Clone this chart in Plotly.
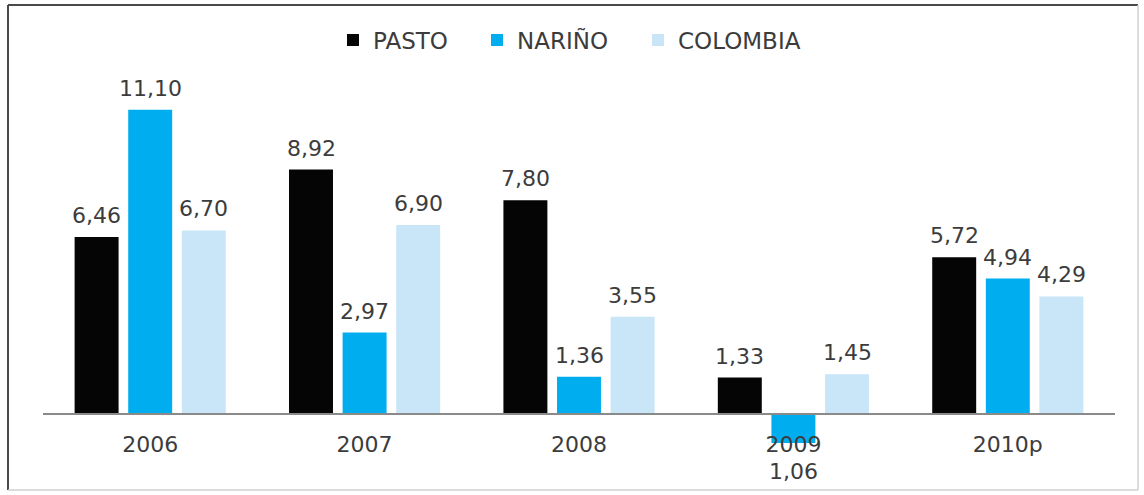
import plotly.graph_objects as go

# Crecimiento anual (%) por territorio
categories = ["2006", "2007", "2008", "2009", "2010p"]
pasto = [6.46, 8.92, 7.80, 1.33, 5.72]
narino = [11.10, 2.97, 1.36, -1.06, 4.94]
colombia = [6.70, 6.90, 3.55, 1.45, 4.29]

series_names = ["PASTO", "NARIÑO", "COLOMBIA"]
series_values = [pasto, narino, colombia]
series_colors = ["#050505", "#00AEEF", "#C9E6F8"]

FONT = "DejaVu Sans"
TEXT_COLOR = "#3c3c3c"

# bar layout inside each category slot (axis units)
slot = 0.25
bar_w = 0.205

W, H = 1144, 495
margin = dict(l=43, r=29, t=69, b=12)
y_range = [-2.52, 12.59]

# left edge (px) of each legend entry along the top row
legend_left_px = [333, 477, 638]
legend_ids = ["legend", "legend2", "legend3"]


def fmt(v):
    return f"{abs(v):.2f}".replace(".", ",")


pw = W - margin["l"] - margin["r"]
ph = H - margin["t"] - margin["b"]


def px_x(p):
    return (p - margin["l"]) / pw


def px_y(p):
    return (H - margin["b"] - p) / ph


fig = go.Figure()
annotations = []
n = len(series_names)
for k, (name, vals, color) in enumerate(zip(series_names, series_values, series_colors)):
    center = (k - (n - 1) / 2) * slot
    fig.add_trace(go.Bar(
        name=name,
        x=list(range(len(categories))),
        y=vals,
        width=bar_w,
        offset=center - bar_w / 2,
        marker=dict(color=color, line=dict(width=0)),
        legend=legend_ids[k],
        hoverinfo="skip",
    ))
    for i, v in enumerate(vals):
        annotations.append(dict(
            x=i + center, y=v, xref="x", yref="y",
            text=fmt(v), showarrow=False,
            yanchor="bottom" if v >= 0 else "top",
            yshift=7 if v >= 0 else -14,
            font=dict(family=FONT, size=22, color=TEXT_COLOR),
        ))

# outer frame drawn in paper coordinates, derived from the margins
left, right, top, bottom = 8, 1138, 5, 490
shapes = [
    dict(type="line", xref="paper", yref="paper", x0=px_x(left), x1=px_x(right),
         y0=px_y(top), y1=px_y(top), line=dict(color="#4a4a4a", width=2)),
    dict(type="line", xref="paper", yref="paper", x0=px_x(left), x1=px_x(left),
         y0=px_y(top), y1=px_y(bottom), line=dict(color="#4a4a4a", width=2)),
    dict(type="line", xref="paper", yref="paper", x0=px_x(right), x1=px_x(right),
         y0=px_y(top), y1=px_y(bottom), line=dict(color="#d0d0d0", width=1.5)),
    dict(type="line", xref="paper", yref="paper", x0=px_x(left), x1=px_x(right),
         y0=px_y(bottom), y1=px_y(bottom), line=dict(color="#d0d0d0", width=1.5)),
]

zero_pos = (0 - y_range[0]) / (y_range[1] - y_range[0])

legend_layouts = {
    lid: dict(
        orientation="h", x=px_x(lx), xanchor="left", y=px_y(40), yanchor="middle",
        font=dict(family=FONT, size=23, color=TEXT_COLOR),
        bgcolor="rgba(0,0,0,0)",
    )
    for lid, lx in zip(legend_ids, legend_left_px)
}

fig.update_layout(
    width=W, height=H,
    margin=margin,
    paper_bgcolor="white",
    plot_bgcolor="white",
    barmode="overlay",
    showlegend=True,
    xaxis=dict(
        range=[-0.5, len(categories) - 0.5],
        tickmode="array",
        tickvals=list(range(len(categories))),
        ticktext=categories,
        anchor="free", position=zero_pos,
        showline=True, linecolor="#8a8a8a", linewidth=1.5,
        showgrid=False, zeroline=False, ticks="",
        ticklabelstandoff=11,
        tickfont=dict(family=FONT, size=22, color=TEXT_COLOR),
    ),
    yaxis=dict(
        range=y_range, visible=False, showgrid=False, zeroline=False,
    ),
    annotations=annotations,
    shapes=shapes,
    **legend_layouts,
)

fig.write_html("out.html")
